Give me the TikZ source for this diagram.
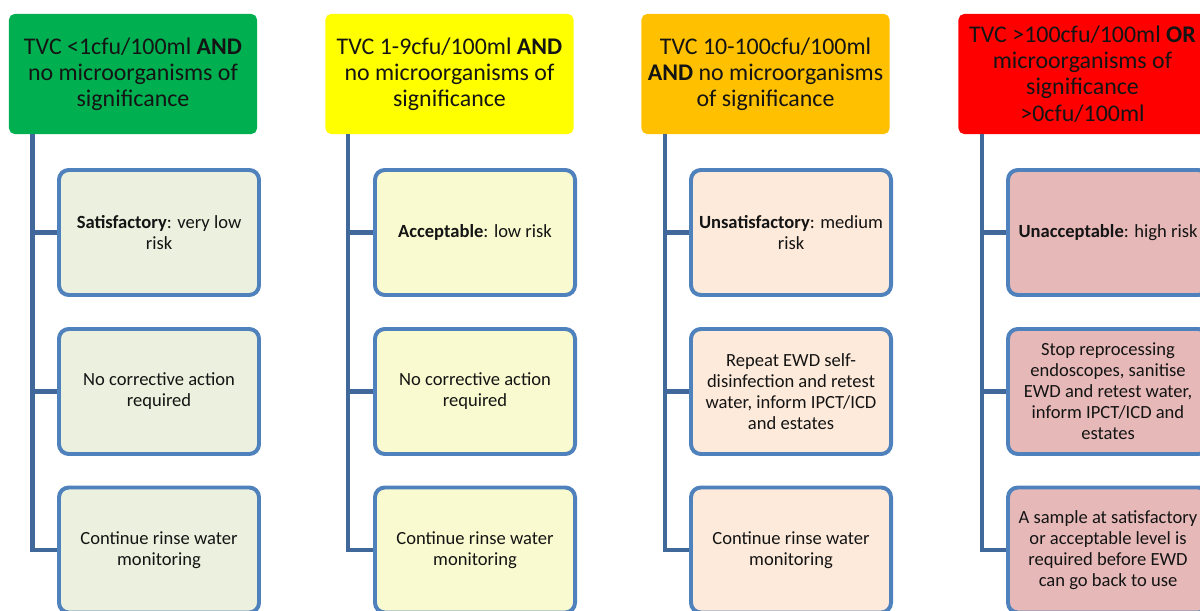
\documentclass[tikz,border=0pt]{standalone}
\usepackage{fontspec}
\setmainfont{Carlito}
\usepackage{tikz}

\definecolor{headgreen}{RGB}{0,176,80}
\definecolor{headyellow}{RGB}{255,255,0}
\definecolor{headorange}{RGB}{255,192,0}
\definecolor{headred}{RGB}{255,0,0}
\definecolor{fillgreen}{RGB}{235,241,222}
\definecolor{fillyellow}{RGB}{250,250,208}
\definecolor{fillorange}{RGB}{253,234,218}
\definecolor{fillred}{RGB}{230,185,184}
\definecolor{boxblue}{RGB}{79,129,189}
\definecolor{stemblue}{RGB}{65,104,155}
\definecolor{inktext}{RGB}{20,20,20}

\tikzset{
  head/.style={rounded corners=4pt, minimum width=6.2cm, minimum height=3cm,
    inner sep=2pt, align=center, text=inktext,
    font=\fontsize{17}{18.6}\selectfont},
  leaf/.style={draw=boxblue, line width=2.8pt, rounded corners=7pt,
    minimum width=5cm, minimum height=3.125cm, inner sep=2pt, align=center,
    text=inktext, font=\fontsize{13.2}{14.9}\selectfont},
  stem/.style={draw=stemblue, line width=3.5pt}
}

\begin{document}
\begin{tikzpicture}[x=0.025cm,y=-0.025cm]
      \useasboundingbox (0,0) rectangle (1200,610);

      % headers
      \node [head,fill=headgreen] (h1) at (133,74) {TVC <1cfu/100ml \textbf{AND}\\no microorganisms of\\significance};
      \node [head,fill=headyellow] (h2) at (449.5,74) {TVC 1-9cfu/100ml \textbf{AND}\\no microorganisms of\\significance};
      \node [head,fill=headorange] (h3) at (765.5,74) {TVC 10-100cfu/100ml\\\textbf{AND} no microorganisms\\of significance};
      \node [head,fill=headred] (h4) at (1082.5,74) {TVC >100cfu/100ml \textbf{OR}\\microorganisms of\\significance\\>0cfu/100ml};

      % first column
      \node [leaf,fill=fillgreen] (a1) at (159,232.5) {\textbf{Satisfactory}: very low\\risk};
      \node [leaf,fill=fillgreen] (b1) at (159,391.5) {No corrective action\\required};
      \node [leaf,fill=fillgreen] (c1) at (159,550) {Continue rinse water\\monitoring};

      % second column
      \node [leaf,fill=fillyellow] (a2) at (475,232.5) {\textbf{Acceptable}: low risk};
      \node [leaf,fill=fillyellow] (b2) at (475,391.5) {No corrective action\\required};
      \node [leaf,fill=fillyellow] (c2) at (475,550) {Continue rinse water\\monitoring};

      % third column
      \node [leaf,fill=fillorange] (a3) at (791,232.5) {\textbf{Unsatisfactory}: medium\\risk};
      \node [leaf,fill=fillorange] (b3) at (791,391.5) {Repeat EWD self-\\disinfection and retest\\water, inform IPCT/ICD\\and estates};
      \node [leaf,fill=fillorange] (c3) at (791,550) {Continue rinse water\\monitoring};

      % fourth column
      \node [leaf,fill=fillred] (a4) at (1108,232.5) {\textbf{Unacceptable}: high risk};
      \node [leaf,fill=fillred] (b4) at (1108,391.5) {Stop reprocessing\\endoscopes, sanitise\\EWD and retest water,\\inform IPCT/ICD and\\estates};
      \node [leaf,fill=fillred] (c4) at (1108,550) {A sample at satisfactory\\or acceptable level is\\required before EWD\\can go back to use};

      % stems
      \coordinate (t1) at (32.5,134);
      \coordinate (t2) at (348,134);
      \coordinate (t3) at (665,134);
      \coordinate (t4) at (982,134);

      \draw [stem] (t1) |- (c1.west);
      \draw [stem] (t1) |- (b1.west);
      \draw [stem] (t1) |- (a1.west);
      \draw [stem] (t2) |- (c2.west);
      \draw [stem] (t2) |- (b2.west);
      \draw [stem] (t2) |- (a2.west);
      \draw [stem] (t3) |- (c3.west);
      \draw [stem] (t3) |- (b3.west);
      \draw [stem] (t3) |- (a3.west);
      \draw [stem] (t4) |- (c4.west);
      \draw [stem] (t4) |- (b4.west);
      \draw [stem] (t4) |- (a4.west);
\end{tikzpicture}
\end{document}
